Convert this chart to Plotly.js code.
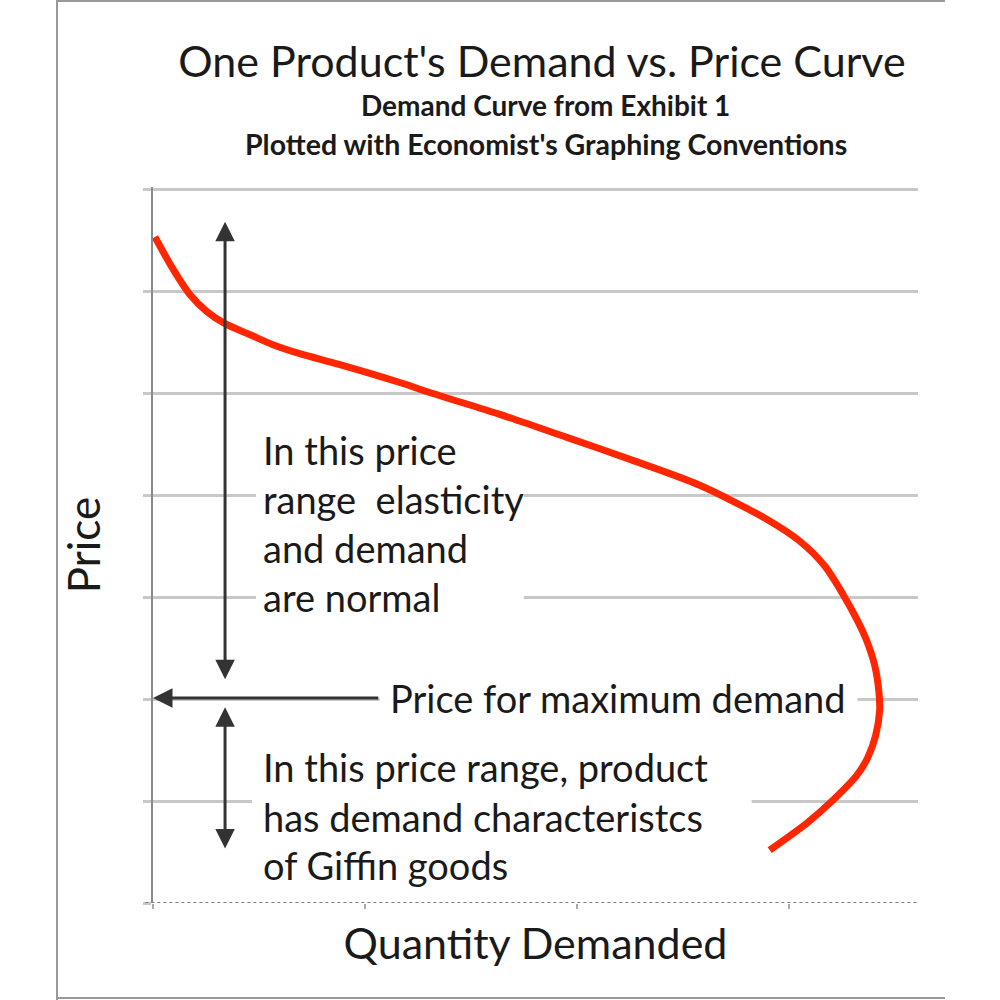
<!DOCTYPE html>
<html>
<head>
<meta charset="utf-8">
<script src="https://cdn.plot.ly/plotly-3.0.1.min.js"></script>
<style>
  html, body { margin: 0; padding: 0; background: #fff; }
  #chart { width: 1000px; height: 1000px; }
</style>
</head>
<body>
<div id="chart"></div>
<script>
// Demand curve (quantity on x, price on y)
const quantity = [0.009, 0.094, 0.175, 0.255, 0.340, 0.458, 0.566, 0.693, 0.882, 1.165, 1.321, 1.637, 1.953, 2.264, 2.580, 2.896, 3.052, 3.170, 3.255, 3.325, 3.368, 3.406, 3.425, 3.429, 3.410, 3.373, 3.321, 3.208, 3.085, 2.910];
const price    = [6.530, 6.217, 5.963, 5.797, 5.680, 5.572, 5.474, 5.386, 5.279, 5.103, 4.995, 4.790, 4.565, 4.340, 4.096, 3.763, 3.548, 3.304, 3.030, 2.766, 2.571, 2.326, 2.082, 1.887, 1.642, 1.427, 1.251, 1.007, 0.782, 0.518];

const xTicks = [0, 1, 2, 3];
const yTicks = [0, 1, 2, 3, 4, 5, 6, 7];

const titleText = "One Product's Demand vs. Price Curve";
const subtitleLines = ["Demand Curve from Exhibit 1", "Plotted with Economist's Graphing Conventions"];
const xTitle = "Quantity Demanded";
const yTitle = "Price";

const normalLines = ["In this price", "range  elasticity", "and demand", "are normal"];
const giffenLines = ["In this price range, product", "has demand characteristcs", "of Giffin goods"];
const maxDemandLabel = "Price for maximum demand";

// Arrow geometry (data units)
const arrowX = 0.34;
const maxDemandPrice = 2.01;
const upperArrow = [2.18, 6.68];
const lowerArrow = [0.52, 1.92];
const horizArrow = [1.07, 0.0];

const FONT = "Lato, 'Open Sans', sans-serif";
const TXT = '#1a1a1a';
const ARROW = '#333333';

const annotations = [];

// subtitles
const subY = [1.1145, 1.060];
const subSize = [28, 28.5];
subtitleLines.forEach((t, i) => {
  annotations.push({
    xref: 'paper', yref: 'paper', x: 0.5137, y: subY[i],
    xanchor: 'center', yanchor: 'middle', showarrow: false,
    text: '<b>' + t + '</b>', font: {family: FONT, size: subSize[i], color: TXT}
  });
});

// normal-range text lines
const normalY = [4.44, 3.96, 3.48, 3.00];
normalLines.forEach((t, i) => {
  annotations.push({
    xref: 'x', yref: 'y', x: 0.51, y: normalY[i],
    xanchor: 'left', yanchor: 'middle', showarrow: false,
    text: t, font: {family: FONT, size: 38, color: TXT}
  });
});

// giffen text lines
const giffenY = [1.33, 0.84, 0.37];
giffenLines.forEach((t, i) => {
  annotations.push({
    xref: 'x', yref: 'y', x: 0.51, y: giffenY[i],
    xanchor: 'left', yanchor: 'middle', showarrow: false,
    text: t, font: {family: FONT, size: 38, color: TXT}
  });
});

// max demand label
annotations.push({
  xref: 'x', yref: 'y', x: 1.11, y: maxDemandPrice,
  xanchor: 'left', yanchor: 'middle', showarrow: false,
  text: maxDemandLabel, font: {family: FONT, size: 38, color: TXT}
});

// arrows
function arrow(x0, y0, x1, y1) {
  return {
    xref: 'x', yref: 'y', axref: 'x', ayref: 'y',
    x: x1, y: y1, ax: x0, ay: y0, text: '',
    showarrow: true, arrowhead: 2, startarrowhead: 2, arrowside: 'end+start',
    arrowsize: 1.3, startarrowsize: 1.3, arrowwidth: 3, arrowcolor: ARROW, standoff: 0, startstandoff: 0
  };
}
annotations.push(arrow(arrowX, upperArrow[0], arrowX, upperArrow[1]));
annotations.push(arrow(arrowX, lowerArrow[0], arrowX, lowerArrow[1]));
annotations.push(Object.assign(arrow(horizArrow[0], maxDemandPrice, horizArrow[1], maxDemandPrice), {arrowside: 'end'}));

const shapes = [
  // white boxes behind the text blocks (hide gridlines)
  {type: 'rect', layer: 'between', xref: 'x', yref: 'y', x0: 0.486, x1: 1.75, y0: 2.72, y1: 4.67, fillcolor: '#fff', line: {width: 0}},
  {type: 'rect', layer: 'between', xref: 'x', yref: 'y', x0: 0.467, x1: 2.825, y0: 0.13, y1: 1.545, fillcolor: '#fff', line: {width: 0}},
  {type: 'rect', layer: 'between', xref: 'x', yref: 'y', x0: 1.07, x1: 3.325, y0: 1.85, y1: 2.17, fillcolor: '#fff', line: {width: 0}},
  // dotted x axis
  {type: 'line', layer: 'above', xref: 'paper', yref: 'y', x0: -0.01, x1: 1, y0: 0, y1: 0, line: {color: '#7a7a7a', width: 2, dash: 'dot'}},
  // outer frame (left, top, bottom)
  {type: 'line', layer: 'above', xref: 'paper', yref: 'paper', x0: -0.1255, x1: -0.1255, y0: -0.137, y1: 1.262, line: {color: '#999', width: 2}},
  {type: 'line', layer: 'above', xref: 'paper', yref: 'paper', x0: -0.1255, x1: 1.0353, y0: 1.2598, y1: 1.2598, line: {color: '#999', width: 2}},
  {type: 'line', layer: 'above', xref: 'paper', yref: 'paper', x0: -0.1255, x1: 1.0353, y0: -0.1327, y1: -0.1327, line: {color: '#999', width: 2}}
];

const data = [{
  type: 'scatter', mode: 'lines', x: quantity, y: price,
  line: {color: '#ff2600', width: 7, shape: 'spline', smoothing: 0.8},
  hoverinfo: 'skip', showlegend: false
}];

const layout = {
  width: 1000, height: 1000,
  margin: {l: 153, r: 82, t: 187, b: 97},
  paper_bgcolor: '#fff', plot_bgcolor: '#fff',
  font: {family: FONT, color: TXT},
  showlegend: false,
  title: {
    text: titleText, font: {family: FONT, size: 43, color: TXT},
    x: 0.542, xanchor: 'center', xref: 'container',
    y: 0.938, yanchor: 'middle', yref: 'container'
  },
  xaxis: {
    range: [0, 3.61], tickvals: xTicks, showticklabels: false,
    ticks: 'outside', ticklen: 5, tickwidth: 2, tickcolor: '#aaa',
    showgrid: false, zeroline: false, showline: false,
    title: {text: xTitle, font: {family: FONT, size: 43, color: TXT}, standoff: 20},
    fixedrange: true
  },
  yaxis: {
    range: [0, 7.02], tickvals: yTicks, showticklabels: false,
    ticks: 'outside', ticklen: 8, tickwidth: 3, tickcolor: '#c8c8c8',
    showgrid: true, gridcolor: '#c8c8c8', gridwidth: 3,
    zeroline: false, showline: true, linecolor: '#8a8a8a', linewidth: 2,
    title: {text: yTitle, font: {family: FONT, size: 44, color: TXT}, standoff: 29},
    fixedrange: true
  },
  shapes: shapes,
  annotations: annotations
};

Plotly.newPlot('chart', data, layout, {displayModeBar: false, staticPlot: true});
</script>
</body>
</html>
